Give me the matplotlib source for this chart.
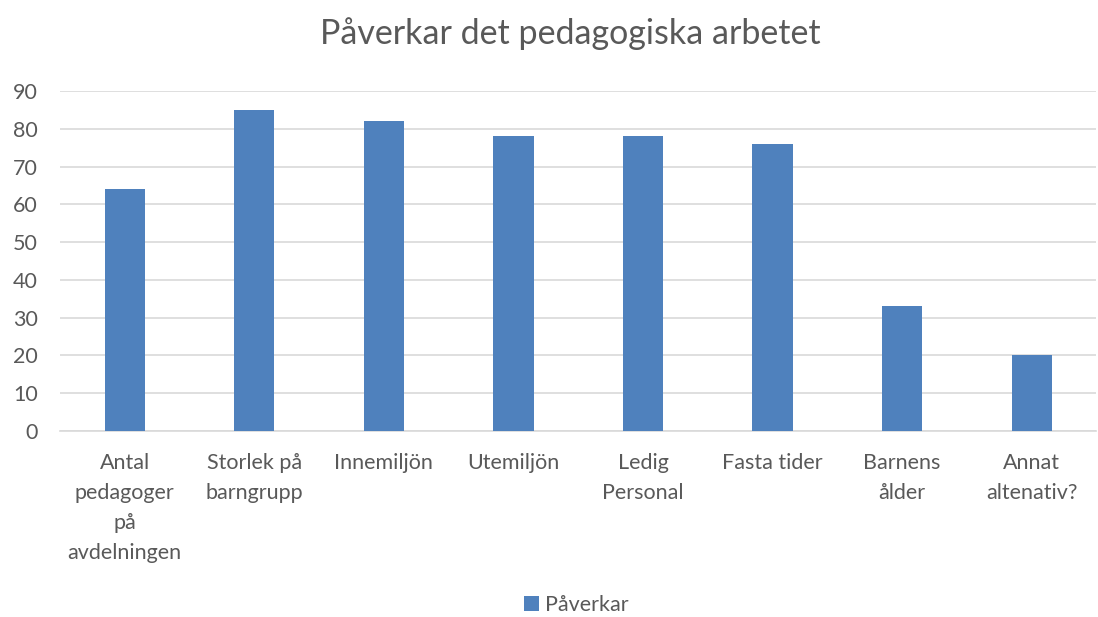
import matplotlib.pyplot as plt

# chart data
categories = ["Antal\npedagoger\npå\navdelningen", "Storlek på\nbarngrupp", "Innemiljön",
              "Utemiljön", "Ledig\nPersonal", "Fasta tider", "Barnens\nålder", "Annat\naltenativ?"]
values = [64, 85, 82, 78, 78, 76, 33, 20]
series_name = "Påverkar"
yticks = list(range(0, 100, 10))

plt.rcParams['font.family'] = ['Lato', 'DejaVu Sans']
grey = '#595959'

fig = plt.figure(figsize=(10.98, 6.17), dpi=100)
ax = fig.add_axes([0.0546, 0.3015, 0.944, 0.551])

x = range(len(categories))
ax.bar(x, values, width=0.31, color='#4f81bd', label=series_name, zorder=3)

ax.set_xlim(-0.5, len(categories) - 0.5)
ax.set_ylim(0, 90)
ax.set_yticks(yticks)
ax.set_xticks(list(x))
ax.set_xticklabels(categories, fontsize=15.5, color=grey, linespacing=1.62, va='top')
ax.tick_params(axis='y', labelsize=15.5, labelcolor=grey, length=0, pad=16)
ax.tick_params(axis='x', length=0, pad=16)
ax.grid(axis='y', color='#d9d9d9', linewidth=1.2, zorder=0)
for side in ['top', 'right', 'left']:
    ax.spines[side].set_visible(False)
ax.spines['bottom'].set_color('#d9d9d9')
ax.spines['bottom'].set_linewidth(1.2)

fig.suptitle("Påverkar det pedagogiska arbetet", fontsize=24.5, color=grey, x=0.519, y=0.972)
fig.legend(loc='lower center', bbox_to_anchor=(0.525, 0.0), frameon=False, fontsize=15.5,
           labelcolor=grey, handlelength=0.7, handleheight=0.7, handletextpad=0.3,
           borderpad=0.1, borderaxespad=0.0)

fig.savefig('out.png', dpi=100)
